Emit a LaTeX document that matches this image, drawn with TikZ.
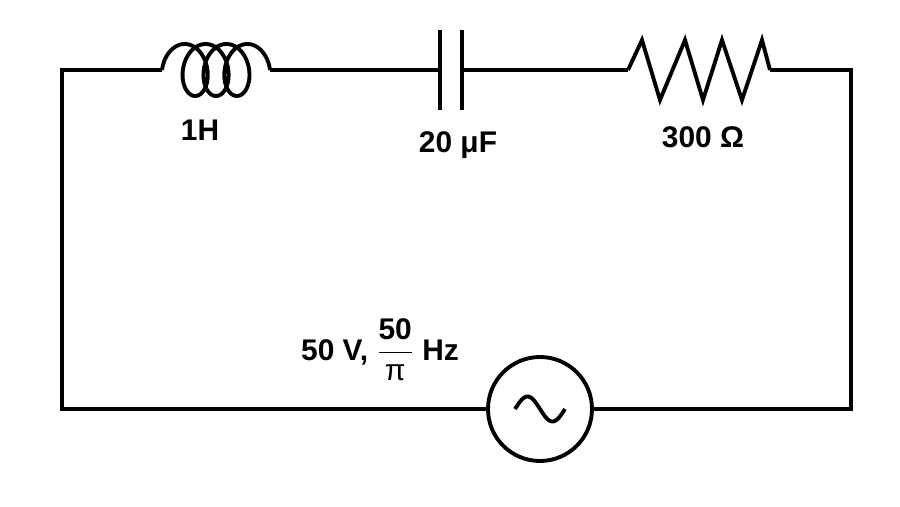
\documentclass[tikz,border=0pt]{standalone}
\usepackage{amsmath}
\usepackage{fontspec}
\setmainfont{Liberation Sans}
\tikzset{wire/.style={line width=2.2pt},
  lbl/.style={font=\bfseries\fontsize{17}{20}\selectfont}}
\begin{document}
\begin{tikzpicture}
	\useasboundingbox (0,0) rectangle (18,10.12);
	% ecke
	\coordinate (tl) at (1.24,8.72);
	\coordinate (tr) at (17.02,8.72);
	\coordinate (bl) at (1.24,1.94);
	\coordinate (br) at (17.02,1.94);
	% spule
	\coordinate (L1) at (3.24,8.72);
	\coordinate (L2) at (5.40,8.72);
	% kondensator
	\coordinate (C1) at (8.80,8.72);
	\coordinate (C2) at (9.24,8.72);
	% widerstand
	\coordinate (R1) at (12.56,8.72);
	\coordinate (R2) at (15.40,8.72);
	% quelle
	\node [wire, draw, circle, minimum size=2.08cm, inner sep=0pt] (src) at (10.8,1.94) {};

	\draw [wire] (L1) -- (tl) -- (bl) -- (src.west);
	\draw [wire] (src.east) -- (br) -- (tr) -- (R2);
	\draw [wire] (L2) -- (C1);
	\draw [wire] (C2) -- (R1);
	\draw [wire, domain=90:1350, samples=300, smooth, variable=\t]
		plot ({3.486+0.0664*rad(\t)-0.35*sin(\t)}, {8.72-0.52*cos(\t)});
	\draw [wire] (8.80,7.92) -- (8.80,9.52);
	\draw [wire] (9.24,7.92) -- (9.24,9.52);
	\draw [wire, line join=miter] (R1) -- (12.84,9.32) -- (13.20,8.12) -- (13.70,9.32) -- (14.06,8.12)
		-- (14.44,9.32) -- (14.84,8.12) -- (15.24,9.32) -- (R2);
	\draw [wire, domain=-1:1, samples=40] plot ({10.8+0.5*\x}, {1.94-0.25*sin(180*\x)});

	% beschriftung
	\node [lbl] (lL) at (4.00,7.52) {1H};
	\node [lbl] (lC) at (9.16,7.22) {20 μF};
	\node [lbl] (lR) at (14.06,7.38) {300 Ω};
	\node [lbl] (lV) at (7.60,3.12) {50 V, $\dfrac{\text{\bfseries 50}}{\text{\mdseries π}}$ Hz};
\end{tikzpicture}
\end{document}
